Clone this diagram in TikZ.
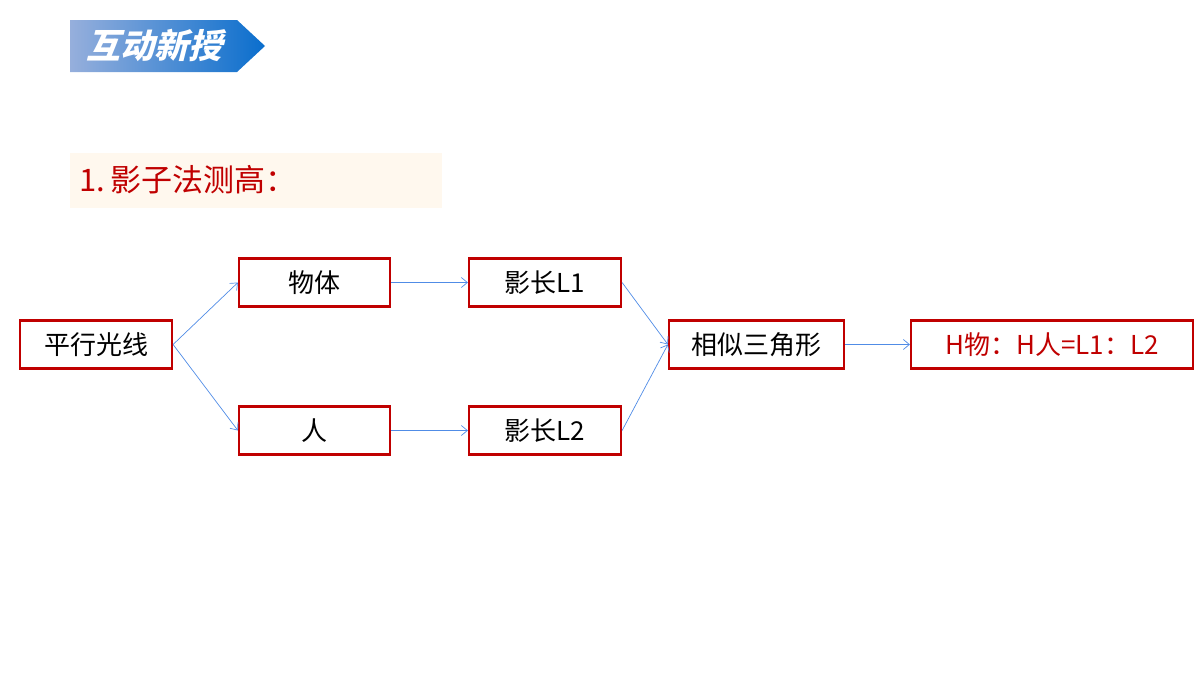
\documentclass[tikz,border=0pt]{standalone}
\usepackage{fontspec}
\setmainfont{Noto Sans CJK SC}
\usetikzlibrary{arrows.meta}
\definecolor{boxred}{RGB}{192,0,0}
\definecolor{arrblue}{RGB}{80,140,230}
\definecolor{cream}{RGB}{255,248,238}
\definecolor{banl}{RGB}{150,175,220}
\definecolor{banr}{RGB}{10,110,205}
\begin{document}
\begin{tikzpicture}[x=1pt,y=-1pt,
  box/.style={draw=boxred,line width=2.2pt,fill=white,minimum height=48pt,inner sep=0pt,font=\fontsize{26}{28}\selectfont},
  conn/.style={draw=arrblue,line width=0.7pt,-{Straight Barb[length=6pt,width=10pt]}}]
\useasboundingbox (0,0) rectangle (1200,675);
\shade[left color=banl,right color=banr] (70,20) -- (237,20) -- (265,46) -- (237,72) -- (70,72) -- cycle;
\node[font=\bfseries\fontsize{34}{36}\selectfont,text=white,xslant=0.25,transform shape] (ban) at (158,45) {互动新授};
\node[fill=cream,minimum width=372pt,minimum height=55pt,inner sep=0pt] (tbg) at (256,180.5) {};
\node[anchor=west,text=boxred,font=\fontsize{31}{34}\selectfont] (title) at (76,180) {1.\,影子法测高：};
\node[box,minimum width=152pt] (a) at (96,344.5) {平行光线};
\node[box,minimum width=151pt] (b) at (314.5,282.5) {物体};
\node[box,minimum width=151pt] (c) at (314.5,430.5) {人};
\node[box,minimum width=152pt] (d) at (545,282.5) {影长L1};
\node[box,minimum width=152pt] (e) at (545,430.5) {影长L2};
\node[box,minimum width=175pt] (f) at (756.5,344.5) {相似三角形};
\node[box,minimum width=282pt,text=boxred] (g) at (1052,344.5) {H物：H人=L1：L2};
\draw[conn] (a.east) -- (b.west);
\draw[conn] (a.east) -- (c.west);
\draw[conn] (b.east) -- (d.west);
\draw[conn] (c.east) -- (e.west);
\draw[conn] (d.east) -- (f.west);
\draw[conn] (e.east) -- (f.west);
\draw[conn] (f.east) -- (g.west);
\end{tikzpicture}
\end{document}
